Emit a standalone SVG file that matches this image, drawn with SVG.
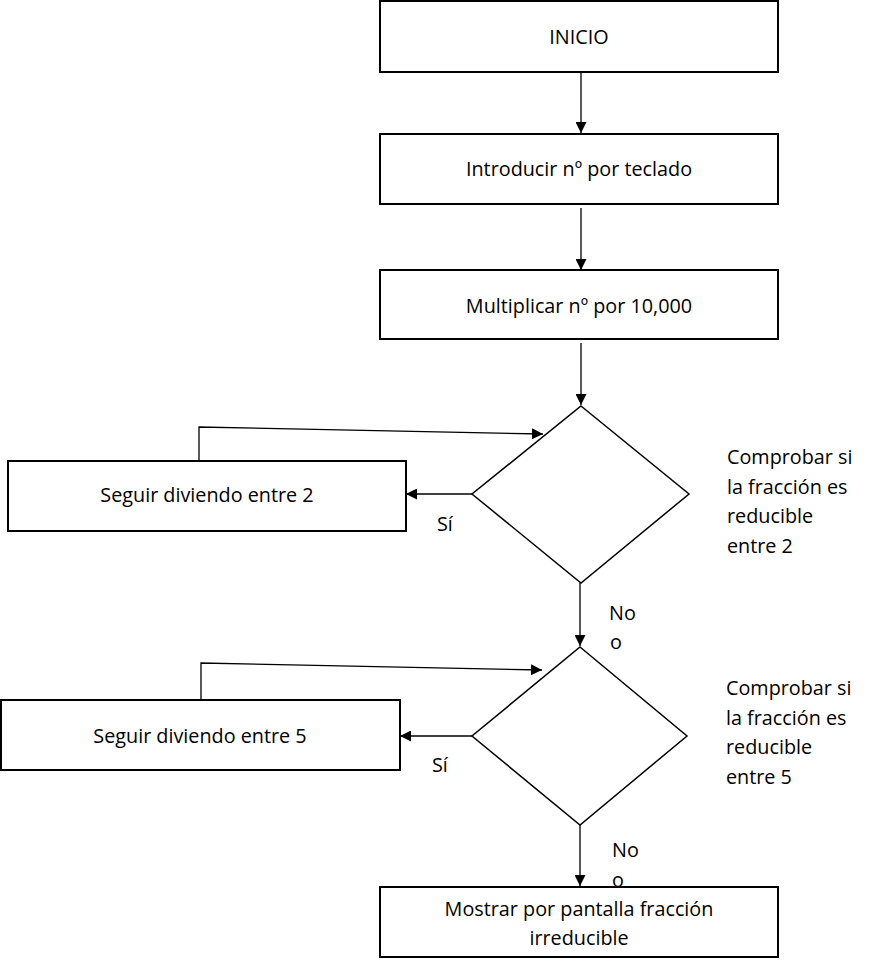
<svg xmlns="http://www.w3.org/2000/svg" width="872" height="966" viewBox="0 0 872 966">
<style>
text{font-family:"Open Sans","Noto Sans","Liberation Sans",sans-serif;font-size:19.8px;fill:#000}
.c{text-anchor:middle}
.box{fill:#fff;stroke:#000;stroke-width:2}
.dia{fill:#fff;stroke:#000;stroke-width:1.5}
.ln{fill:none;stroke:#000;stroke-width:1.3}
</style>
<defs>
<marker id="ah" viewBox="0 0 10 10" refX="10" refY="5" markerWidth="11" markerHeight="11" markerUnits="userSpaceOnUse" orient="auto">
<path d="M0,0 L10,5 L0,10 Z" fill="#000"/>
</marker>
</defs>
<g id="connectors">
<line class="ln" x1="581" y1="72" x2="581" y2="133" marker-end="url(#ah)"/>
<line class="ln" x1="581" y1="208" x2="581" y2="270" marker-end="url(#ah)"/>
<line class="ln" x1="581" y1="343" x2="581" y2="405" marker-end="url(#ah)"/>
<line class="ln" x1="472" y1="494" x2="406" y2="494" marker-end="url(#ah)"/>
<polyline class="ln" points="199,461 199,427 543,434" marker-end="url(#ah)"/>
<line class="ln" x1="580" y1="583" x2="580" y2="646" marker-end="url(#ah)"/>
<line class="ln" x1="472" y1="736" x2="400" y2="736" marker-end="url(#ah)"/>
<polyline class="ln" points="201,700 201,663 542,670" marker-end="url(#ah)"/>
<line class="ln" x1="580" y1="825" x2="580" y2="886" marker-end="url(#ah)"/>
</g>
<g id="labels">
<text x="437" y="531">Sí</text>
<text x="609" y="620">No</text>
<text x="610" y="649">o</text>
<text x="432" y="772">Sí</text>
<text x="612" y="857">No</text>
<text x="612" y="887">o</text>
</g>
<g id="inicio">
<rect class="box" x="380" y="1" width="398" height="71"/>
<text class="c" x="579" y="44">INICIO</text>
</g>
<g id="introducir">
<rect class="box" x="380" y="134" width="398" height="70"/>
<text class="c" x="579" y="176">Introducir nº por teclado</text>
</g>
<g id="multiplicar">
<rect class="box" x="380" y="270" width="398" height="69"/>
<text class="c" x="579" y="313">Multiplicar nº por 10,000</text>
</g>
<g id="decision2">
<polygon class="dia" points="581,406 689,494 581,583 472,494"/>
<text x="727" y="464">Comprobar si</text>
<text x="727" y="494">la fracción es</text>
<text x="727" y="523">reducible</text>
<text x="727" y="553">entre 2</text>
</g>
<g id="dividir2">
<rect class="box" x="8" y="461" width="398" height="70"/>
<text class="c" x="207" y="502">Seguir diviendo entre 2</text>
</g>
<g id="decision5">
<polygon class="dia" points="580,647 687,736 580,825 472,736"/>
<text x="726" y="695">Comprobar si</text>
<text x="726" y="725">la fracción es</text>
<text x="726" y="754">reducible</text>
<text x="726" y="784">entre 5</text>
</g>
<g id="dividir5">
<rect class="box" x="1" y="700" width="399" height="70"/>
<text class="c" x="200" y="743">Seguir diviendo entre 5</text>
</g>
<g id="mostrar">
<rect class="box" x="380" y="887" width="398" height="70"/>
<text class="c" x="579" y="916">Mostrar por pantalla fracción</text>
<text class="c" x="579" y="945">irreducible</text>
</g>
</svg>
